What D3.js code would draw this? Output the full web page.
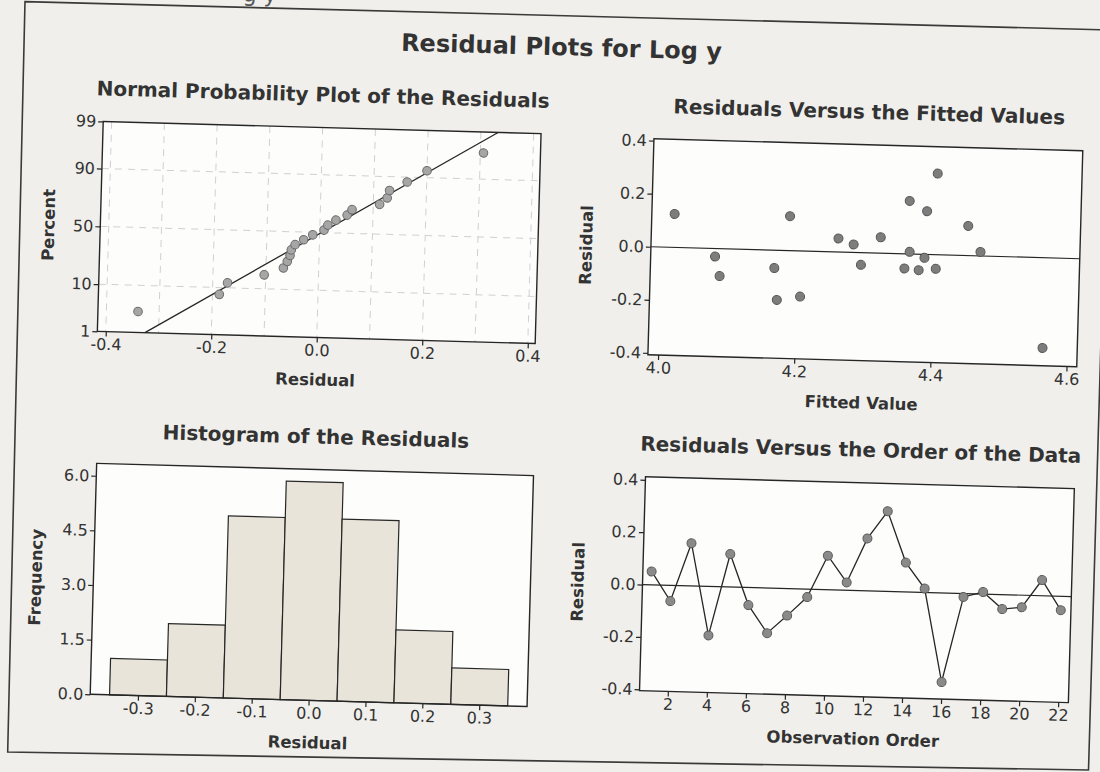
<!DOCTYPE html>
<html>
<head>
<meta charset="utf-8">
<script src="https://cdn.jsdelivr.net/npm/d3@7"></script>
<style>
  body { margin: 0; background: #f0efeb; }
  svg { display: block; font-family: "DejaVu Sans", Verdana, sans-serif; }
</style>
</head>
<body>
<script>
// residuals in observation order (1..22) and the fitted value of each
const residuals = [0.051, -0.060, 0.163, -0.187, 0.126, -0.067, -0.172, -0.103, -0.030, 0.130, 0.030,
                   0.200, 0.306, 0.112, 0.015, -0.340, -0.013, 0.008, -0.055, -0.046, 0.060, -0.053];
const fitted = [4.260, 4.379, 4.389, 4.172, 4.0185, 4.167, 4.206, 4.087, 4.0795, 4.188, 4.2825,
                4.363, 4.403, 4.450, 4.469, 4.564, 4.387, 4.365, 4.358, 4.294, 4.322, 4.404];
const order = d3.range(1, residuals.length + 1);

const pctTicks = [1, 10, 50, 90, 99];
const pctGrid = [10, 50, 90];
const resTicks = [-0.4, -0.2, 0, 0.2, 0.4];
const resGrid = [-0.4, -0.3, -0.2, -0.1, 0, 0.1, 0.2, 0.3, 0.4];
const binEdges = [-0.35, -0.25, -0.15, -0.05, 0.05, 0.15, 0.25, 0.35];
const histXTicks = [-0.3, -0.2, -0.1, 0, 0.1, 0.2, 0.3];
const freqTicks = [0, 1.5, 3, 4.5, 6];
const fitTicks = [4.0, 4.2, 4.4, 4.6];
const orderTicks = [2, 4, 6, 8, 10, 12, 14, 16, 18, 20, 22];

const width = 1100, height = 772;
const ink = "#262626";
const f1 = d => d.toFixed(1);

// inverse normal cdf (Acklam)
function qnorm(p) {
  const a = [-3.969683028665376e+01, 2.209460984245205e+02, -2.759285104469687e+02, 1.383577518672690e+02, -3.066479806614716e+01, 2.506628277459239e+00];
  const b = [-5.447609879822406e+01, 1.615858368580409e+02, -1.556989798598866e+02, 6.680131188771972e+01, -1.328068155288572e+01];
  const c = [-7.784894002430293e-03, -3.223964580411365e-01, -2.400758277161838e+00, -2.549732539343734e+00, 4.374664141464968e+00, 2.938163982698783e+00];
  const d = [7.784695709041462e-03, 3.224671290700398e-01, 2.445134137142996e+00, 3.754408661907416e+00];
  const pl = 0.02425;
  let q, r;
  if (p < pl) {
    q = Math.sqrt(-2 * Math.log(p));
    return (((((c[0]*q+c[1])*q+c[2])*q+c[3])*q+c[4])*q+c[5]) / ((((d[0]*q+d[1])*q+d[2])*q+d[3])*q+1);
  }
  if (p > 1 - pl) {
    q = Math.sqrt(-2 * Math.log(1 - p));
    return -(((((c[0]*q+c[1])*q+c[2])*q+c[3])*q+c[4])*q+c[5]) / ((((d[0]*q+d[1])*q+d[2])*q+d[3])*q+1);
  }
  q = p - 0.5; r = q * q;
  return (((((a[0]*r+a[1])*r+a[2])*r+a[3])*r+a[4])*r+a[5])*q / (((((b[0]*r+b[1])*r+b[2])*r+b[3])*r+b[4])*r+1);
}

const svg = d3.select("body").append("svg")
    .attr("width", width)
    .attr("height", height);

svg.append("rect").attr("width", width).attr("height", height).attr("fill", "#f0efeb");

const root = svg.append("g").attr("transform", "rotate(1.6,550,386)");

// leftover descenders of the line above on the scanned page
root.append("text")
    .attr("x", 232).attr("y", 10)
    .attr("font-size", 22)
    .attr("fill", "#555")
    .text("g y");

// outer border of the scanned page (slightly skewed)
svg.append("path")
    .attr("d", "M25,1.6 L1110,30 L1088.5,770 L7.7,752 Z")
    .attr("fill", "none")
    .attr("stroke", "#3a3a3a")
    .attr("stroke-width", 1.6);

root.append("text")
    .attr("x", 552).attr("y", 55)
    .attr("text-anchor", "middle")
    .attr("font-size", 24).attr("font-weight", "bold")
    .attr("fill", "#333")
    .text("Residual Plots for Log y");

function panel(box, title, xlab, ylab, ylabOff) {
  const g = root.append("g");
  g.append("rect")
      .attr("x", box.x0).attr("y", box.y0)
      .attr("width", box.x1 - box.x0).attr("height", box.y1 - box.y0)
      .attr("fill", "#fdfdfc");
  g.append("text")
      .attr("x", (box.x0 + box.x1) / 2).attr("y", box.y0 - 26)
      .attr("text-anchor", "middle")
      .attr("font-size", 20).attr("font-weight", "bold")
      .attr("fill", "#333")
      .text(title);
  g.append("text")
      .attr("x", (box.x0 + box.x1) / 2).attr("y", box.y1 + 48)
      .attr("text-anchor", "middle")
      .attr("font-size", 16.5).attr("font-weight", "bold")
      .attr("fill", "#333")
      .text(xlab);
  g.append("text")
      .attr("transform", `translate(${box.x0 - ylabOff + 6},${(box.y0 + box.y1) / 2}) rotate(-90)`)
      .attr("text-anchor", "middle")
      .attr("font-size", 16.5).attr("font-weight", "bold")
      .attr("fill", "#333")
      .text(ylab);
  return g;
}

function axes(g, box, x, y, xTicks, yTicks, xFmt, yFmt) {
  g.append("g")
      .attr("transform", `translate(0,${box.y1})`)
      .call(d3.axisBottom(x).tickValues(xTicks).tickFormat(xFmt).tickSize(5).tickSizeOuter(0).tickPadding(2))
      .call(a => a.select(".domain").remove());
  g.append("g")
      .attr("transform", `translate(${box.x0},0)`)
      .call(d3.axisLeft(y).tickValues(yTicks).tickFormat(yFmt).tickSize(5).tickSizeOuter(0).tickPadding(2))
      .call(a => a.select(".domain").remove());
  g.selectAll(".tick text").attr("font-size", 16).attr("font-family", "DejaVu Sans").attr("fill", "#333");
  g.selectAll(".tick line").attr("stroke", ink).attr("stroke-width", 1.2);
}

function frame(g, box) {
  g.append("rect")
      .attr("x", box.x0).attr("y", box.y0)
      .attr("width", box.x1 - box.x0).attr("height", box.y1 - box.y0)
      .attr("fill", "none")
      .attr("stroke", ink)
      .attr("stroke-width", 1.4);
}

// ---- Normal probability plot ----
{
  const box = {x0: 96, x1: 534, y0: 134, y1: 344};
  const g = panel(box, "Normal Probability Plot of the Residuals", "Residual", "Percent", 52);
  const x = d3.scaleLinear().domain([-0.416, 0.414]).range([box.x0, box.x1]);
  const y = d3.scaleLinear().domain([qnorm(0.01), qnorm(0.99)]).range([box.y1, box.y0]);
  const n = residuals.length;
  const sorted = residuals.slice().sort(d3.ascending);
  const pts = sorted.map((r, i) => ({r, z: qnorm((i + 1 - 0.3) / (n + 0.4))}));
  const mu = d3.mean(residuals), sd = d3.deviation(residuals);

  g.append("g").selectAll("line").data(resGrid).join("line")
      .attr("x1", d => x(d)).attr("x2", d => x(d))
      .attr("y1", box.y0).attr("y2", box.y1)
      .attr("stroke", "#d0d0d0").attr("stroke-dasharray", "7,6");
  g.append("g").selectAll("line").data(pctGrid).join("line")
      .attr("x1", box.x0).attr("x2", box.x1)
      .attr("y1", d => y(qnorm(d / 100))).attr("y2", d => y(qnorm(d / 100)))
      .attr("stroke", "#d0d0d0").attr("stroke-dasharray", "7,6");

  const zEnds = [qnorm(0.01), qnorm(0.99)];
  g.append("path")
      .datum(zEnds)
      .attr("d", d3.line().x(z => x(mu + sd * z)).y(z => y(z)))
      .attr("fill", "none").attr("stroke", ink).attr("stroke-width", 1.3);

  g.append("g").selectAll("circle").data(pts).join("circle")
      .attr("cx", d => x(d.r)).attr("cy", d => y(d.z)).attr("r", 4.3)
      .attr("fill", "#a6a6a6").attr("stroke", "#6a6a6a").attr("stroke-width", 1);

  frame(g, box);
  axes(g, box, x, y, resTicks, pctTicks.map(p => qnorm(p / 100)), f1, (d, i) => pctTicks[i]);
}

// ---- Residuals vs fitted ----
{
  const box = {x0: 647, x1: 1076, y0: 136, y1: 352};
  const g = panel(box, "Residuals Versus the Fitted Values", "Fitted Value", "Residual", 65);
  const x = d3.scaleLinear().domain([3.985, 4.615]).range([box.x0, box.x1]);
  const y = d3.scaleLinear().domain([-0.407, 0.407]).range([box.y1, box.y0]);

  g.append("line")
      .attr("x1", box.x0).attr("x2", box.x1).attr("y1", y(0)).attr("y2", y(0))
      .attr("stroke", ink).attr("stroke-width", 1.2);
  g.append("g").selectAll("circle").data(order).join("circle")
      .attr("cx", i => x(fitted[i - 1])).attr("cy", i => y(residuals[i - 1])).attr("r", 4.5)
      .attr("fill", "#7d7d7d").attr("stroke", "#555").attr("stroke-width", 1);

  frame(g, box);
  axes(g, box, x, y, fitTicks, resTicks, f1, f1);
}

// ---- Histogram ----
{
  const box = {x0: 99, x1: 536, y0: 476, y1: 707};
  const g = panel(box, "Histogram of the Residuals", "Residual", "Frequency", 58);
  const x = d3.scaleLinear().domain([-0.384, 0.384]).range([box.x0, box.x1]);
  const y = d3.scaleLinear().domain([0, 6.34]).range([box.y1, box.y0]);
  const bins = d3.bin().domain([binEdges[0], binEdges[binEdges.length - 1]])
      .thresholds(binEdges.slice(1, -1))(residuals);

  g.append("g").selectAll("rect").data(bins).join("rect")
      .attr("x", d => x(d.x0)).attr("width", d => x(d.x1) - x(d.x0))
      .attr("y", d => y(d.length)).attr("height", d => y(0) - y(d.length))
      .attr("fill", "#e8e4da").attr("stroke", ink).attr("stroke-width", 1.2);

  frame(g, box);
  axes(g, box, x, y, histXTicks, freqTicks, f1, f1);
}

// ---- Residuals vs order ----
{
  const box = {x0: 648, x1: 1077, y0: 474, y1: 688};
  const g = panel(box, "Residuals Versus the Order of the Data", "Observation Order", "Residual", 65);
  const x = d3.scaleLinear().domain([0.55, 22.52]).range([box.x0, box.x1]);
  const y = d3.scaleLinear().domain([-0.405, 0.412]).range([box.y1, box.y0]);

  g.append("line")
      .attr("x1", box.x0).attr("x2", box.x1).attr("y1", y(0)).attr("y2", y(0))
      .attr("stroke", ink).attr("stroke-width", 1.2);
  g.append("path")
      .datum(order)
      .attr("d", d3.line().x(i => x(i)).y(i => y(residuals[i - 1])))
      .attr("fill", "none").attr("stroke", ink).attr("stroke-width", 1.3);
  g.append("g").selectAll("circle").data(order).join("circle")
      .attr("cx", i => x(i)).attr("cy", i => y(residuals[i - 1])).attr("r", 4.5)
      .attr("fill", "#8a8a8a").attr("stroke", "#5a5a5a").attr("stroke-width", 1);

  frame(g, box);
  axes(g, box, x, y, orderTicks, resTicks, d => d, f1);
}
</script>
</body>
</html>
